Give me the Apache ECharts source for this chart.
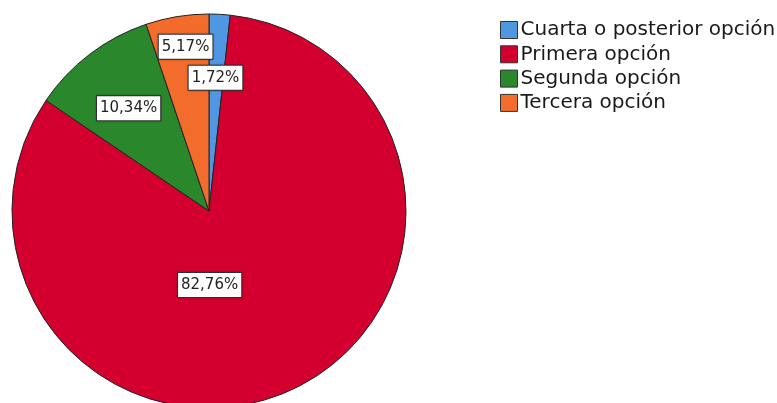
<!DOCTYPE html>
<html><head><meta charset="utf-8">
<script src="https://cdn.jsdelivr.net/npm/echarts@6/dist/echarts.min.js"></script>
<style>html,body{margin:0;padding:0;background:#fff}#c{width:777px;height:403px}</style>
</head><body><div id="c"></div>
<script>
const categories = ['Cuarta o posterior opción', 'Primera opción', 'Segunda opción', 'Tercera opción'];
const percents = [1.72, 82.76, 10.34, 5.17];
const colors = ['#4f96e3', '#d3002f', '#2a872b', '#f36c2b'];
const labelOffsets = [[1, -32], [-42, -18], [-19, -22], [-7, -64]];

const chart = echarts.init(document.getElementById('c'), null, {renderer: 'canvas'});
chart.setOption({
  animation: false,
  legend: {
    orient: 'vertical',
    left: 495,
    top: 15,
    itemWidth: 17,
    itemHeight: 17,
    itemGap: 4.3,
    icon: 'rect',
    data: categories,
    textStyle: {fontFamily: 'DejaVu Sans', fontSize: 20, color: '#1a1a1a', padding: [0,0,0,-2]},
    itemStyle: {borderColor: '#333', borderWidth: 1}
  },
  series: [{
    type: 'pie',
    center: [209, 211],
    radius: 197,
    startAngle: 90,
    clockwise: true,
    avoidLabelOverlap: false,
    labelLine: {show: false},
    itemStyle: {borderColor: '#222', borderWidth: 1},
    label: {
      show: true,
      position: 'inside',
      formatter: p => p.value.toFixed(2).replace('.', ',') + '%',
      fontFamily: 'DejaVu Sans',
      fontSize: 15,
      color: '#222',
      backgroundColor: '#fff',
      borderColor: '#333',
      borderWidth: 1,
      padding: [5, 3, 4, 3],
      shadowColor: 'rgba(0,0,0,0.3)',
      shadowBlur: 2
    },
    data: categories.map((n, i) => ({
      name: n,
      value: percents[i],
      itemStyle: {color: colors[i]},
      label: {offset: labelOffsets[i]}
    }))
  }]
});
</script></body></html>
